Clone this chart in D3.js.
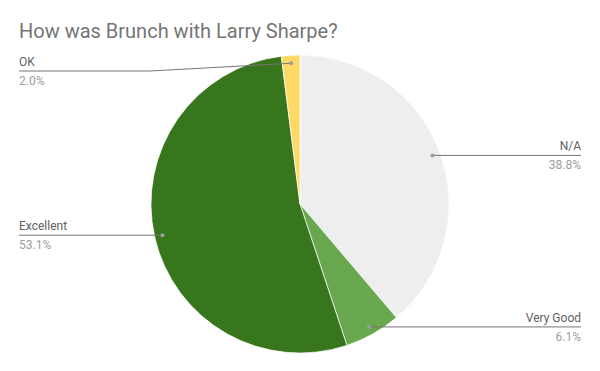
<!DOCTYPE html>
<html>
<head>
<meta charset="utf-8">
<style>
body { margin: 0; background: #fff; }
svg text { font-family: Roboto, "Noto Sans", sans-serif; }
.title { font-size: 20px; fill: #757575; }
.lname { font-size: 12px; fill: #616161; }
.lpct { font-size: 12px; fill: #9e9e9e; }
.lline { stroke: #757575; stroke-width: 1; fill: none; }
</style>
</head>
<body>
<svg width="600" height="371"></svg>
<script src="https://cdn.jsdelivr.net/npm/d3@7"></script>
<script>

var categories = ["N/A", "Very Good", "Excellent", "OK"];
var values = [38.8, 6.1, 53.1, 2.0];
var colors = ["#eeeeee", "#6aa84f", "#38761d", "#ffd966"];

var svg = d3.select("svg"),
    width = +svg.attr("width"),
    height = +svg.attr("height");

var cx = 300, cy = 204, r = 149;

svg.append("text")
    .attr("class", "title")
    .attr("x", 19)
    .attr("y", 38)
    .text("How was Brunch with Larry Sharpe?");

var data = categories.map(function(c, i) { return { name: c, value: values[i], color: colors[i] }; });

var pie = d3.pie().sort(null).value(function(d) { return d.value; });
var arc = d3.arc().innerRadius(0).outerRadius(r);
var dotArc = d3.arc().innerRadius(141).outerRadius(141);

var arcs = pie(data);

var g = svg.append("g").attr("transform", "translate(" + cx + "," + cy + ")");

g.selectAll("path.slice")
    .data(arcs)
  .enter().append("path")
    .attr("class", "slice")
    .attr("d", arc)
    .attr("fill", function(d) { return d.data.color; })
    .attr("stroke", "#fff")
    .attr("stroke-width", 0.7);

// labels
var minY = 71;
arcs.forEach(function(d) {
  var p = dotArc.centroid(d);
  var dx = cx + p[0], dy = cy + p[1];
  var mid = (d.startAngle + d.endAngle) / 2;
  var right = mid < Math.PI;
  var ly = Math.max(dy, minY);
  var xEdge = right ? 581 : 19;

  var pts;
  if (Math.abs(ly - dy) > 0.5) {
    var bend = right ? xEdge - 131 : xEdge + 131;
    pts = [[dx, dy], [bend, ly], [xEdge, ly]];
  } else {
    pts = [[dx, dy], [xEdge, ly]];
  }
  svg.append("path")
      .attr("class", "lline")
      .attr("d", d3.line()(pts));

  svg.append("circle")
      .attr("cx", dx).attr("cy", dy).attr("r", 2)
      .attr("fill", "#9e9e9e");

  svg.append("text")
      .attr("class", "lname")
      .attr("x", xEdge)
      .attr("y", ly - 5)
      .attr("text-anchor", right ? "end" : "start")
      .text(d.data.name);

  svg.append("text")
      .attr("class", "lpct")
      .attr("x", xEdge)
      .attr("y", ly + 14)
      .attr("text-anchor", right ? "end" : "start")
      .text(d.data.value.toFixed(1) + "%");
});

</script>
</body>
</html>
